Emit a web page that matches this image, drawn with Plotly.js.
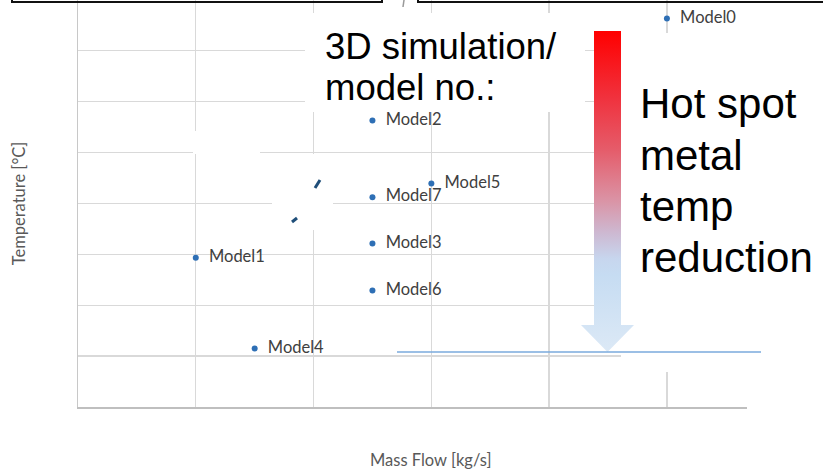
<!DOCTYPE html>
<html>
<head>
<meta charset="utf-8">
<script src="https://cdn.plot.ly/plotly-3.0.1.min.js"></script>
<style>html,body{margin:0;padding:0;background:#fff;}#chart{width:823px;height:469px;}</style>
</head>
<body>
<div id="chart"></div>
<script>
// ---- data ----
const models      = ['Model0','Model1','Model2','Model3','Model4','Model5','Model6','Model7'];
const massFlow    = [5.0, 1.0, 2.5, 2.5, 1.5, 3.0, 2.5, 2.5];
const temperature = [7.63, 2.93, 5.63, 3.21, 1.15, 4.39, 2.29, 4.12];

const xTitle = 'Mass Flow [kg/s]';
const yTitle = 'Temperature [°C]';
const boxText1 = ['3D simulation/', 'model no.:'];
const boxText2 = ['Hot spot', 'metal', 'temp', 'reduction'];

const xRange = [0, 5.68];
const yRange = [0, 7.995];

// ---- layout geometry (pixels) ----
const W = 823, H = 469;
const L = 78, R = 747, T = 0, B = 407;
const px = v => (v - L) / (R - L);
const py = v => (B - v) / (B - T);
// pixel -> data (for shapes drawn between grid and traces)
const dx = v => xRange[0] + px(v) * (xRange[1] - xRange[0]);
const dy = v => yRange[0] + py(v) * (yRange[1] - yRange[0]);

function coverPx(x0, y0, x1, y1) {
  return {type:'rect', xref:'x', yref:'y',
    x0:dx(x0), x1:dx(x1), y0:dy(y1), y1:dy(y0),
    fillcolor:'#ffffff', line:{width:0}, layer:'between'};
}
function framePx(x0, y0, x1, y1) {
  return {type:'rect', xref:'paper', yref:'paper',
    x0:px(x0), x1:px(x1), y0:py(y1), y1:py(y0),
    fillcolor:'rgba(0,0,0,0)', line:{color:'#111111', width:2}, layer:'above'};
}
function linePx(x0, y0, x1, y1, color, width) {
  return {type:'line', xref:'paper', yref:'paper', x0:px(x0), y0:py(y0), x1:px(x1), y1:py(y1),
    line:{color:color, width:width}, layer:'above'};
}

// gradient arrow as inline svg (data URI, no network)
const arrowSvg =
 '<svg xmlns="http://www.w3.org/2000/svg" width="53" height="321" viewBox="0 0 53 321" preserveAspectRatio="none">' +
 '<defs><linearGradient id="g" x1="0" y1="0" x2="0" y2="321" gradientUnits="userSpaceOnUse">' +
 '<stop offset="0" stop-color="#ff0000"/>' +
 '<stop offset="0.21" stop-color="#f0323e"/>' +
 '<stop offset="0.37" stop-color="#e55c6a"/>' +
 '<stop offset="0.53" stop-color="#da94a6"/>' +
 '<stop offset="0.63" stop-color="#cdb9d2"/>' +
 '<stop offset="0.71" stop-color="#c7d6ee"/>' +
 '<stop offset="0.76" stop-color="#c6dcf2"/>' +
 '<stop offset="1" stop-color="#dce9f6"/>' +
 '</linearGradient></defs>' +
 '<path d="M13 0 H40 V294 H53 L26.5 321 L0 294 H13 Z" fill="url(#g)"/>' +
 '</svg>';
const arrowUri = 'data:image/svg+xml;base64,' + btoa(arrowSvg);

const labelFont = 'Lato, "Open Sans", sans-serif';

const trace = {
  type:'scatter', mode:'markers+text',
  x: massFlow, y: temperature, text: models,
  texttemplate:'\u00a0\u00a0%{text}',
  textposition:'middle right',
  textfont:{family:labelFont, size:16.5, color:'#404040'},
  marker:{color:'#2e6fb5', size:6},
  cliponaxis:false, hoverinfo:'x+y+text', showlegend:false
};

const bigFont1 = {family:'"Liberation Sans", Arial, sans-serif', size:36.5, color:'#000000'};
const bigFont2 = {family:'"Liberation Sans", Arial, sans-serif', size:42, color:'#000000'};

const annotations = [];
const line1Y = [46, 87];
boxText1.forEach((t, i) => annotations.push({xref:'paper', yref:'paper', x:px(324), y:py(line1Y[i]),
  xanchor:'left', yanchor:'middle', text:t, showarrow:false, borderpad:0, font:bigFont1}));
const line2Y = [103, 155, 206, 257];
boxText2.forEach((t, i) => annotations.push({xref:'paper', yref:'paper', x:px(639), y:py(line2Y[i]),
  xanchor:'left', yanchor:'middle', text:t, showarrow:false, borderpad:0, font:bigFont2}));
annotations.push({xref:'paper', yref:'paper', x:px(431), y:py(460), xanchor:'center', yanchor:'middle',
  text:xTitle, showarrow:false, font:{family:labelFont, size:16.5, color:'#595959'}});

const shapes = [
  // white text boxes / covers (between grid and traces)
  coverPx(305, 13, 585, 112),
  coverPx(621, 33, 760, 322),
  coverPx(635, 322, 760, 372),
  coverPx(621, 353, 636, 372),
  coverPx(193, 131, 260, 154),
  coverPx(272, 154, 333, 230),
  // small fragments
  linePx(315, 188, 320, 180, '#1f4e79', 3),
  linePx(292, 222, 297, 218, '#1f4e79', 3),
  linePx(404, 0, 403, 7, '#999999', 1.5),
  // horizontal reference line
  linePx(397, 352, 761, 352, '#7aaadc', 1.6),
  // edges of boxes cut off at top
  framePx(12, -30, 382, 2),
  framePx(418, -30, 840, 2)
];

const layout = {
  width:W, height:H,
  margin:{l:L, r:W-R, t:T, b:H-B, pad:0},
  paper_bgcolor:'#ffffff', plot_bgcolor:'#ffffff',
  showlegend:false,
  xaxis:{range:xRange, tick0:0, dtick:1, showticklabels:false, ticks:'',
    showgrid:true, gridcolor:'#d9d9d9', gridwidth:1.3, zeroline:false,
    showline:true, linecolor:'#bfbfbf', linewidth:1.5, fixedrange:true},
  yaxis:{range:yRange, tick0:0, dtick:1, showticklabels:false, ticks:'',
    showgrid:true, gridcolor:'#d9d9d9', gridwidth:1.3, zeroline:false,
    showline:true, linecolor:'#c8c8c8', linewidth:1.5, fixedrange:true,
    title:{text:yTitle, standoff:46, font:{family:labelFont, size:16.5, color:'#595959'}}},
  images:[{source:arrowUri, xref:'paper', yref:'paper', x:px(581), y:py(31),
    sizex:px(634)-px(581), sizey:py(31)-py(352), xanchor:'left', yanchor:'top',
    sizing:'stretch', layer:'above'}],
  shapes:shapes,
  annotations:annotations
};

Plotly.newPlot('chart', [trace], layout, {displayModeBar:false, staticPlot:true});
</script>
</body>
</html>
